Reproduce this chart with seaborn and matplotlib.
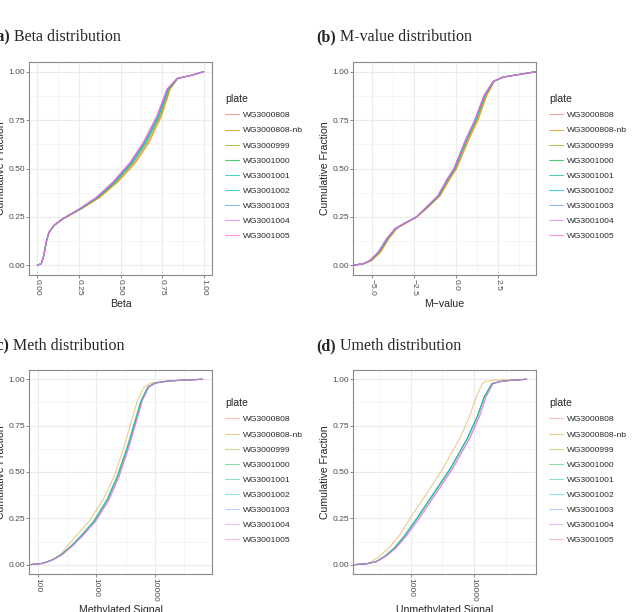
import numpy as np
import pandas as pd
import seaborn as sns
import matplotlib.pyplot as plt
from matplotlib.ticker import FixedLocator, MultipleLocator, NullFormatter

plates = ["WG3000808", "WG3000808-nb", "WG3000999", "WG3001000", "WG3001001",
          "WG3001002", "WG3001003", "WG3001004", "WG3001005"]
plate_colors = ["#F8766D", "#D39200", "#93AA00", "#00BA38", "#00C19F",
                "#00B9E3", "#619CFF", "#DB72FB", "#FF61C3"]

# cumulative fraction levels, and the value at which each plate reaches them
beta_frac = [0, 0.009, 0.05, 0.12, 0.17, 0.206, 0.24, 0.29, 0.35, 0.43, 0.53, 0.635, 0.77, 0.91, 0.965, 0.98, 1.0]
beta_x = [
    [0, 0.024, 0.039, 0.054, 0.071, 0.101, 0.155, 0.260, 0.371, 0.479, 0.585, 0.667, 0.742, 0.796, 0.844, 0.92, 1.0],
    [0, 0.024, 0.039, 0.054, 0.071, 0.102, 0.156, 0.262, 0.375, 0.484, 0.591, 0.672, 0.746, 0.799, 0.845, 0.92, 1.0],
    [0, 0.024, 0.039, 0.054, 0.070, 0.101, 0.154, 0.258, 0.366, 0.472, 0.577, 0.659, 0.737, 0.793, 0.843, 0.92, 1.0],
    [0, 0.024, 0.039, 0.053, 0.070, 0.100, 0.153, 0.256, 0.362, 0.467, 0.571, 0.652, 0.731, 0.788, 0.842, 0.92, 1.0],
    [0, 0.024, 0.039, 0.053, 0.070, 0.100, 0.152, 0.254, 0.359, 0.463, 0.566, 0.648, 0.728, 0.786, 0.842, 0.92, 1.0],
    [0, 0.024, 0.039, 0.053, 0.069, 0.100, 0.152, 0.253, 0.358, 0.461, 0.564, 0.645, 0.726, 0.784, 0.841, 0.92, 1.0],
    [0, 0.024, 0.039, 0.053, 0.069, 0.099, 0.151, 0.252, 0.356, 0.458, 0.560, 0.641, 0.722, 0.782, 0.841, 0.92, 1.0],
    [0, 0.024, 0.039, 0.053, 0.069, 0.099, 0.150, 0.250, 0.354, 0.455, 0.557, 0.638, 0.719, 0.780, 0.840, 0.92, 1.0],
    [0, 0.024, 0.039, 0.053, 0.069, 0.099, 0.150, 0.250, 0.353, 0.454, 0.556, 0.637, 0.718, 0.779, 0.840, 0.92, 1.0],
]

mval_frac = [0, 0.009, 0.026, 0.069, 0.137, 0.189, 0.214, 0.25, 0.30, 0.36, 0.446, 0.50, 0.65, 0.75, 0.875, 0.95, 0.972, 1.0]
mval_x = [
    [-6.15, -5.46, -5.04, -4.52, -4.04, -3.57, -3.10, -2.35, -1.70, -0.98, -0.41, -0.01, 0.72, 1.26, 1.78, 2.25, 2.80, 4.74],
    [-6.15, -5.45, -5.02, -4.50, -4.02, -3.55, -3.08, -2.34, -1.68, -0.96, -0.38, 0.02, 0.75, 1.29, 1.80, 2.26, 2.80, 4.74],
    [-6.15, -5.48, -5.07, -4.56, -4.08, -3.60, -3.12, -2.36, -1.73, -1.02, -0.46, -0.06, 0.66, 1.20, 1.73, 2.23, 2.79, 4.74],
    [-6.15, -5.50, -5.09, -4.59, -4.10, -3.62, -3.13, -2.37, -1.75, -1.04, -0.49, -0.09, 0.62, 1.16, 1.69, 2.21, 2.79, 4.74],
    [-6.15, -5.51, -5.11, -4.61, -4.12, -3.63, -3.14, -2.37, -1.76, -1.06, -0.51, -0.11, 0.60, 1.14, 1.67, 2.20, 2.78, 4.74],
    [-6.15, -5.52, -5.12, -4.62, -4.13, -3.64, -3.15, -2.37, -1.77, -1.07, -0.52, -0.12, 0.58, 1.12, 1.66, 2.20, 2.78, 4.74],
    [-6.15, -5.55, -5.16, -4.66, -4.17, -3.67, -3.17, -2.38, -1.80, -1.10, -0.55, -0.15, 0.55, 1.09, 1.63, 2.18, 2.78, 4.74],
    [-6.15, -5.53, -5.13, -4.63, -4.14, -3.65, -3.16, -2.38, -1.79, -1.09, -0.54, -0.14, 0.56, 1.10, 1.64, 2.19, 2.78, 4.74],
    [-6.15, -5.52, -5.12, -4.62, -4.13, -3.64, -3.15, -2.38, -1.79, -1.09, -0.54, -0.14, 0.57, 1.11, 1.64, 2.19, 2.78, 4.74],
]

meth_frac = [0, 0.007, 0.025, 0.055, 0.10, 0.154, 0.234, 0.351, 0.476, 0.637, 0.762, 0.887, 0.959, 0.98, 0.991, 0.996, 1.0]
meth_x = [
    [71, 120, 176, 258, 377, 556, 930, 1570, 2340, 3490, 4560, 5950, 7750, 10200, 17400, 33800, 65000],
    [71, 120, 174, 245, 321, 446, 753, 1306, 2014, 2985, 3882, 5047, 6561, 8531, 15849, 31623, 65000],
    [71, 120, 176, 257, 375, 553, 925, 1560, 2320, 3460, 4530, 5920, 7710, 10150, 17350, 33800, 65000],
    [71, 120, 175, 255, 370, 545, 905, 1525, 2270, 3400, 4450, 5830, 7620, 10080, 17250, 33750, 65000],
    [71, 120, 174, 252, 366, 538, 895, 1510, 2250, 3370, 4420, 5800, 7580, 10050, 17200, 33700, 65000],
    [71, 120, 175, 255, 372, 548, 915, 1540, 2290, 3420, 4480, 5860, 7650, 10100, 17300, 33800, 65000],
    [71, 120, 177, 260, 384, 570, 962, 1630, 2420, 3590, 4680, 6090, 7890, 10300, 17500, 33900, 65000],
    [71, 120, 178, 263, 389, 579, 977, 1656, 2455, 3631, 4721, 6138, 7943, 10375, 17539, 33884, 65000],
    [71, 120, 178, 262, 387, 575, 970, 1645, 2440, 3610, 4700, 6110, 7920, 10350, 17500, 33900, 65000],
]

umeth_frac = [0, 0.005, 0.016, 0.047, 0.091, 0.154, 0.252, 0.386, 0.52, 0.68, 0.80, 0.905, 0.977, 0.99, 0.995, 1.0]
umeth_x = [
    [122, 200, 281, 397, 560, 798, 1275, 2340, 4290, 7870, 11400, 14600, 19300, 28100, 41000, 67600],
    [122, 200, 238, 323, 453, 652, 984, 1803, 3228, 5916, 8511, 10839, 13490, 15600, 22387, 67600],
    [122, 200, 281, 396, 558, 795, 1270, 2330, 4270, 7840, 11350, 14550, 19250, 28050, 41000, 67600],
    [122, 200, 280, 395, 555, 790, 1265, 2320, 4250, 7800, 11300, 14500, 19200, 28000, 41000, 67600],
    [122, 200, 279, 393, 552, 786, 1258, 2305, 4225, 7760, 11250, 14450, 19150, 28000, 41000, 67600],
    [122, 200, 280, 395, 555, 790, 1265, 2320, 4250, 7800, 11300, 14500, 19200, 28000, 41000, 67600],
    [122, 200, 285, 408, 584, 843, 1365, 2505, 4590, 8420, 12150, 15400, 19900, 28500, 41100, 67600],
    [122, 200, 286, 411, 589, 851, 1380, 2535, 4645, 8511, 12246, 15488, 19953, 28576, 41115, 67600],
    [122, 200, 286, 410, 587, 848, 1375, 2525, 4625, 8480, 12200, 15450, 19930, 28550, 41100, 67600],
]

sns.set_style("white")
plt.rcParams["font.family"] = ["Liberation Sans", "DejaVu Sans"]

fig = plt.figure(figsize=(6.33, 6.12), dpi=100)
W, H = 633, 612


def to_long(frac, xs):
    rows = []
    for plate, x in zip(plates, xs):
        for xi, fi in zip(x, frac):
            rows.append((plate, xi, fi))
    return pd.DataFrame(rows, columns=["plate", "value", "frac"])


def px_axes(left, top, right, bottom):
    return fig.add_axes([left / W, 1 - bottom / H, (right - left) / W, (bottom - top) / H])


def draw_panel(ax, frac, xs, alpha, xlabel, log=False):
    df = to_long(frac, xs)
    sns.lineplot(data=df, x="value", y="frac", hue="plate", hue_order=plates,
                 palette=plate_colors, sort=False, estimator=None,
                 lw=0.8, alpha=alpha, ax=ax)
    if log:
        ax.set_xscale("log")
    ax.set_ylim(-0.05, 1.05)
    ax.yaxis.set_major_locator(FixedLocator([0, 0.25, 0.5, 0.75, 1.0]))
    ax.yaxis.set_minor_locator(FixedLocator([0.125, 0.375, 0.625, 0.875]))
    ax.set_yticklabels(["0.00", "0.25", "0.50", "0.75", "1.00"])
    ax.grid(which="major", color="#EBEBEB", lw=0.8)
    ax.grid(which="minor", color="#F2F2F2", lw=0.5)
    ax.set_axisbelow(True)
    for s in ax.spines.values():
        s.set_color("#8A8A8A")
        s.set_linewidth(0.8)
    ax.tick_params(which="major", length=2, width=0.5, color="#555555",
                   labelsize=6.1, labelcolor="#4D4D4D", pad=1, bottom=True, left=True)
    ax.tick_params(which="minor", length=0)
    ax.xaxis.set_minor_formatter(NullFormatter())
    ax.set_xlabel(xlabel, fontsize=7.6, labelpad=2)
    ax.set_ylabel("Cumulative Fraction", fontsize=7.6, labelpad=1.5)


def rotate_xticks(ax):
    for lab in ax.get_xticklabels():
        lab.set_rotation(270)
        lab.set_va("top")
        lab.set_ha("center")


def place_legend(ax, x, y):
    sns.move_legend(ax, "upper left", bbox_to_anchor=(x / W, 1 - y / H),
                    bbox_transform=fig.transFigure, frameon=False, title="plate",
                    fontsize=6.1, title_fontsize=7.6, handlelength=1.65,
                    handletextpad=0.5, labelspacing=0.85, borderpad=0,
                    alignment="left")


def panel_title(x, y, tag, text):
    t = fig.text(x / W, 1 - y / H, tag, family="Liberation Serif",
                 fontweight="bold", fontsize=11.5, va="bottom", ha="left")
    fig.axes[0].annotate(text, xy=(1, 0), xycoords=t, va="bottom", ha="left",
                         family="Liberation Serif", fontsize=11.5, annotation_clip=False)


# (a) Beta
ax_a = px_axes(29, 62, 212, 275)
draw_panel(ax_a, beta_frac, beta_x, 0.7, "Beta")
ax_a.set_xlim(-0.05, 1.05)
ax_a.xaxis.set_major_locator(FixedLocator([0, 0.25, 0.5, 0.75, 1.0]))
ax_a.xaxis.set_minor_locator(FixedLocator([0.125, 0.375, 0.625, 0.875]))
ax_a.set_xticklabels(["0.00", "0.25", "0.50", "0.75", "1.00"])
rotate_xticks(ax_a)
place_legend(ax_a, 221, 90)

# (b) M-value
ax_b = px_axes(353, 62, 536, 275)
draw_panel(ax_b, mval_frac, mval_x, 0.7, "M\u2212value")
ax_b.set_xlim(-6.15, 4.74)
ax_b.xaxis.set_major_locator(FixedLocator([-5, -2.5, 0, 2.5]))
ax_b.xaxis.set_minor_locator(FixedLocator([-3.75, -1.25, 1.25, 3.75]))
ax_b.set_xticklabels(["\u22125.0", "\u22122.5", "0.0", "2.5"])
rotate_xticks(ax_b)
place_legend(ax_b, 545, 90)

# (c) Meth
ax_c = px_axes(29, 370, 212, 574)
draw_panel(ax_c, meth_frac, meth_x, 0.45, "Methylated Signal", log=True)
ax_c.set_xlim(71, 94200)
ax_c.xaxis.set_major_locator(FixedLocator([100, 1000, 10000]))
ax_c.xaxis.set_minor_locator(FixedLocator([10 ** 2.5, 10 ** 3.5, 10 ** 4.5]))
ax_c.set_xticklabels(["100", "1000", "10000"])
rotate_xticks(ax_c)
place_legend(ax_c, 221, 394)

# (d) Umeth
ax_d = px_axes(353, 370, 536, 574)
draw_panel(ax_d, umeth_frac, umeth_x, 0.45, "Unmethylated Signal", log=True)
ax_d.set_xlim(122.5, 95300)
ax_d.xaxis.set_major_locator(FixedLocator([1000, 10000]))
ax_d.xaxis.set_minor_locator(FixedLocator([10 ** 2.5, 10 ** 3.5, 10 ** 4.5]))
ax_d.set_xticklabels(["1000", "10000"])
rotate_xticks(ax_d)
place_legend(ax_d, 545, 394)

panel_title(-9, 45, "(a)", " Beta distribution")
panel_title(316, 45, "(b)", " M-value distribution")
panel_title(-9, 354, "(c)", " Meth distribution")
panel_title(316, 354, "(d)", " Umeth distribution")

fig.savefig("out.png", dpi=100)
